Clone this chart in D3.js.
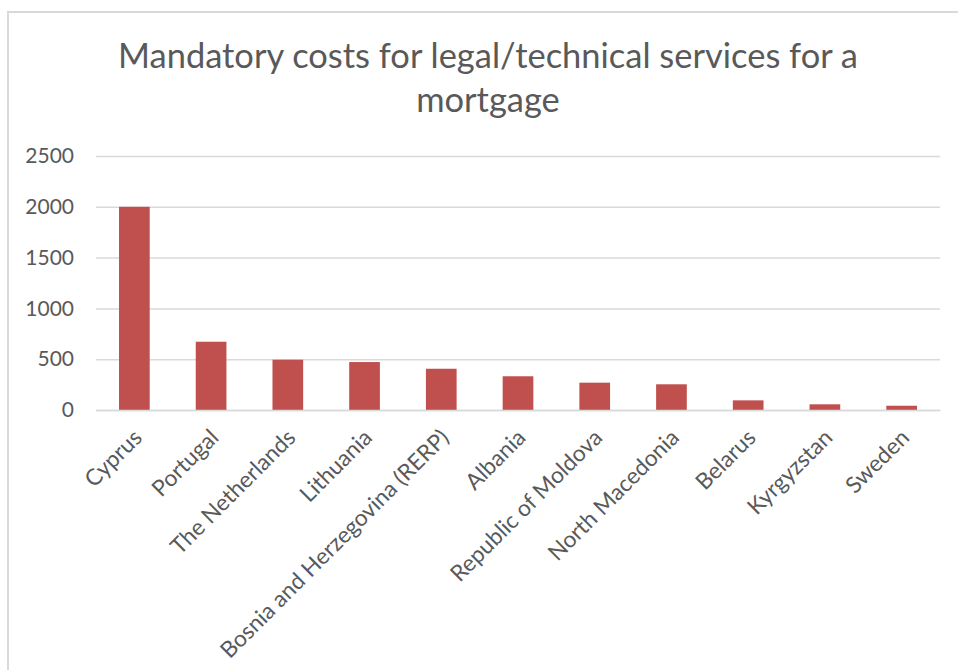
<!DOCTYPE html>
<html>
<head>
<meta charset="utf-8">
<script src="https://cdn.jsdelivr.net/npm/d3@7"></script>
<style>
  html, body { margin: 0; padding: 0; background: #ffffff; }
  svg { display: block; }
  text { font-family: Lato, "Open Sans", sans-serif; fill: #595959; }
</style>
</head>
<body>
<script>
// Mandatory costs for legal/technical services for a mortgage (EUR)
const countries = [
  "Cyprus", "Portugal", "The Netherlands", "Lithuania",
  "Bosnia and Herzegovina (RERP)", "Albania", "Republic of Moldova",
  "North Macedonia", "Belarus", "Kyrgyzstan", "Sweden"
];
const costs = [2000, 672, 495, 472, 406, 332, 269, 253, 95, 56, 42];
const yTicks = [0, 500, 1000, 1500, 2000, 2500];
const titleLines = ["Mandatory costs for legal/technical services for a", "mortgage"];

const W = 958, H = 670;
const plot = { left: 96, right: 940, top: 156, bottom: 410 };

const svg = d3.select("body").append("svg")
  .attr("width", W).attr("height", H);

// chart frame
svg.append("rect")
  .attr("x", 8).attr("y", 12)
  .attr("width", W + 20).attr("height", H + 20)
  .attr("fill", "#ffffff")
  .attr("stroke", "#d9d9d9").attr("stroke-width", 2);

// title, sized to span the same width as the category area
const title = svg.append("text")
  .attr("text-anchor", "middle")
  .attr("x", 488);
title.selectAll("tspan").data(titleLines).join("tspan")
  .attr("x", 488)
  .attr("y", (d, i) => 68 + i * 44)
  .text(d => d);
title.style("font-size", "30px");
const firstLen = title.select("tspan").node().getComputedTextLength();
title.style("font-size", (30 * 740 / firstLen).toFixed(2) + "px");

const x = d3.scaleBand()
  .domain(countries)
  .range([plot.left, plot.right])
  .paddingInner(0.6)
  .paddingOuter(0.3);

const y = d3.scaleLinear()
  .domain([0, 2500])
  .range([plot.bottom, plot.top]);

// horizontal gridlines + value labels
const yAxis = d3.axisLeft(y)
  .tickValues(yTicks)
  .tickSize(-(plot.right - plot.left))
  .tickPadding(22)
  .tickFormat(d3.format("d"));

const yg = svg.append("g")
  .attr("transform", `translate(${plot.left},0)`)
  .call(yAxis);
yg.select(".domain").remove();
yg.selectAll(".tick line").attr("stroke", "#d9d9d9").attr("stroke-width", 1.5);
yg.selectAll(".tick text")
  .attr("fill", "#595959")
  .style("font-family", "Lato, 'Open Sans', sans-serif")
  .style("font-size", "21px");

// bars
svg.append("g").selectAll("rect")
  .data(countries)
  .join("rect")
  .attr("x", d => x(d))
  .attr("width", x.bandwidth())
  .attr("y", (d, i) => y(costs[i]))
  .attr("height", (d, i) => y(0) - y(costs[i]))
  .attr("fill", "#c0504d");

// category axis with rotated labels
const xAxis = d3.axisBottom(x).tickSize(0).tickPadding(0);
const xg = svg.append("g")
  .attr("transform", `translate(0,${plot.bottom})`)
  .call(xAxis);
xg.select(".domain").attr("stroke", "#d9d9d9").attr("stroke-width", 1.5);

const labels = xg.selectAll(".tick text")
  .attr("fill", "#595959")
  .style("font-family", "Lato, 'Open Sans', sans-serif")
  .style("font-size", "22px")
  .attr("text-anchor", "end")
  .attr("dominant-baseline", "central")
  .attr("dy", null)
  .attr("y", 0)
  .attr("transform", "translate(3,23) rotate(-45)");

// fit the label size so the longest name spans the same diagonal run
const longest = labels.filter(d => d === "Bosnia and Herzegovina (RERP)").node();
const len = longest.getComputedTextLength();
labels.style("font-size", (22 * 312 / len).toFixed(2) + "px");
</script>
</body>
</html>
